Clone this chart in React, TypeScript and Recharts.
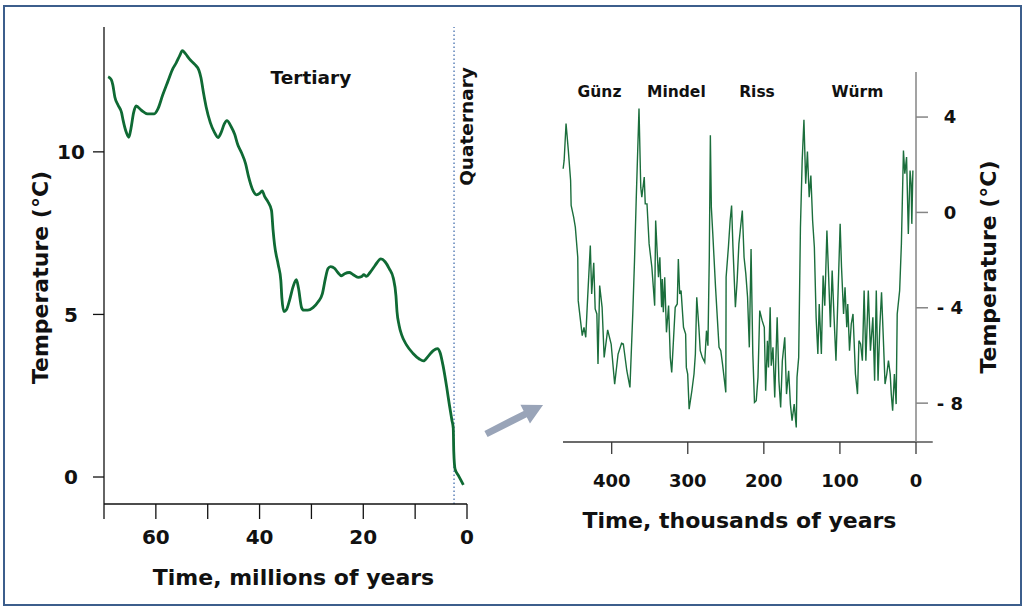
import React from 'react';
import { LineChart, Line, XAxis, YAxis, ReferenceLine, ReferenceDot, Label } from 'recharts';

const FONT = '"DejaVu Sans", Verdana, sans-serif';
const INK = '#111111';
const GREEN = '#0f6a34';

// Tertiary cooling, millions of years before present
const myaAge = [
  69.2, 68.6, 68.3, 67.9, 67.3, 66.6, 66.3, 65.7, 65.2, 64.8,
  64.3, 63.8, 62.8, 61.6, 60.3, 59.6, 58.7, 57.7, 56.7, 56.1,
  55.4, 54.9, 54.3, 53.5, 52.5, 51.7, 51.3, 50.8, 50.3, 49.5,
  48.7, 48, 47.4, 46.8, 46.3, 45.5, 44.8, 44.2, 43.5, 42.7,
  42.1, 41.4, 40.6, 40, 39.5, 39, 38.4, 37.7, 37.4, 37.1,
  36.4, 35.9, 35.7, 35.3, 34.8, 34.2, 33.5, 32.9, 32.5, 31.9,
  31.5, 30.7, 29.7, 28.7, 27.9, 27.3, 26.8, 26.3, 25.5, 24.9,
  24.2, 23.6, 22.7, 22, 21, 20.3, 19.9, 19.4, 18.7, 17.8,
  16.6, 15.8, 15, 14.2, 13.7, 13.5, 13.1, 12.6, 11.7, 10.4,
  9.2, 8.4, 7.5, 6.5, 5.7, 5.2, 4.6, 3.9, 3.4, 2.9,
  2.65, 2.55, 2.3, 1.7, 0.7,
];
const myaTemp = [
  12.31, 12.22, 12.06, 11.68, 11.44, 11.2, 10.96, 10.6, 10.45, 10.72,
  11.2, 11.41, 11.28, 11.17, 11.17, 11.32, 11.74, 12.16, 12.57, 12.73,
  12.96, 13.11, 13.02, 12.85, 12.69, 12.51, 12.28, 11.8, 11.38, 10.9,
  10.6, 10.44, 10.6, 10.86, 10.96, 10.78, 10.54, 10.22, 9.98, 9.64,
  9.22, 8.86, 8.68, 8.72, 8.8, 8.62, 8.47, 8.2, 7.6, 7.13,
  6.53, 6.05, 5.51, 5.09, 5.15, 5.45, 5.87, 6.07, 5.81, 5.21,
  5.13, 5.13, 5.21, 5.39, 5.63, 6.11, 6.41, 6.47, 6.41, 6.29,
  6.19, 6.25, 6.29, 6.23, 6.14, 6.17, 6.22, 6.17, 6.29, 6.49,
  6.71, 6.62, 6.41, 6.11, 5.57, 5.09, 4.67, 4.37, 4.07, 3.8,
  3.63, 3.57, 3.71, 3.89, 3.95, 3.83, 3.41, 2.75, 2.22, 1.74,
  1.5, 0.78, 0.24, 0.06, -0.24,
];
const myaTicks = [0, 10, 20, 30, 40, 50, 60, 70];
const myaLabelled = [0, 20, 40, 60];
const myaTempTicks = [0, 5, 10];
const quaternaryStart = 2.5;

// glacial cycles, thousands of years before present
const kyaAge = [
  463.8, 462.5, 460, 457, 454, 453.3, 450, 447.8, 444.6, 444,
  441, 438.7, 436.4, 434.1, 431.8, 428.1, 426.3, 423.6, 421.7, 419.5,
  418, 415.8, 412.6, 409.9, 405.3, 400.7, 396.1, 391.6, 387, 384.7,
  380.1, 376, 372.3, 370, 367.8, 364.1, 361.8, 360.4, 357.2, 355.9,
  353.6, 350.8, 347.2, 343.5, 342.2, 340.3, 338.5, 336.7, 334.4, 333.5,
  332.1, 330.3, 328, 325.2, 323, 321.1, 319.3, 316.5, 313.8, 312.4,
  310.6, 308.8, 305.6, 302.8, 301.9, 300.1, 298.2, 294.6, 291.8, 290,
  288.2, 285.4, 283.6, 280.9, 277.7, 275.4, 273.5, 271.7, 270.3, 269,
  267.1, 263.5, 258.9, 256.6, 254.3, 250, 249.6, 246.6, 244.3, 242.4,
  240.6, 237.4, 235.1, 232.8, 230.6, 228.3, 226, 223.7, 221.4, 219.1,
  216.8, 214.5, 212.3, 210, 207.7, 205.4, 202.2, 199.4, 197.6, 195.3,
  193.9, 191.7, 190.3, 188, 185.7, 182.5, 180.2, 177.9, 175.7, 172.5,
  170.2, 167.4, 165.1, 162.9, 160.1, 157.4, 156.4, 154.2, 151.9, 149.6,
  147.3, 145, 142.7, 140.4, 138.2, 135.9, 133.6, 131.3, 129, 127.2,
  124.4, 122.1, 119.9, 117.1, 114.8, 112.5, 110.2, 107.9, 105.2, 102.5,
  99.7, 97.9, 95.2, 93.3, 91, 89.7, 87.4, 85.1, 82.8, 79.6,
  76.9, 75, 72.8, 70.5, 68.2, 65.9, 62.7, 59.9, 56.7, 54.4,
  52.2, 49.9, 47.6, 45.3, 43, 40.7, 38.4, 36.2, 33.9, 32.5,
  30.7, 28.4, 26.1, 24.7, 21.5, 19.2, 16.5, 14.7, 12.4, 10.1,
  7.8, 6.4, 5.5, 4.1,
];
const kyaTemp = [
  1.83, 2.18, 3.73, 2.6, 1.34, 0.29, -0.2, -0.62, -1.88, -3.7,
  -4.54, -5.17, -4.82, -5.24, -3.7, -1.39, -3.42, -2.11, -4.05, -4.26,
  -6.36, -3.07, -3.98, -6.08, -4.93, -5.52, -7.2, -5.94, -5.49, -5.52,
  -6.64, -7.34, -4.26, -2.02, 0.5, 4.36, 1.06, 0.64, 1.48, 0.36,
  0.36, -1.32, -2.3, -3.91, -0.34, -1.6, -2.72, -1.88, -3.98, -2.79,
  -4.19, -2.72, -5.03, -3.91, -6.08, -6.71, -5.66, -3.98, -3.84, -1.95,
  -3.42, -3.28, -4.82, -5.1, -6.5, -6.78, -8.25, -7.48, -6.78, -5.94,
  -3.56, -4.82, -5.8, -6.08, -6.29, -4.96, -5.59, -1.88, 3.24, 0.22,
  -0.9, -3.14, -5.66, -5.8, -6.36, -7.55, -2.72, -1.46, -0.34, 0.29,
  -1.46, -3.98, -2.86, -1.32, -0.62, 0.08, -1.88, -2.58, -3.56, -5.66,
  -1.53, -5.94, -7.97, -7.9, -6.92, -4.12, -4.54, -4.82, -7.48, -5.38,
  -6.5, -3.98, -6.43, -5.66, -7.76, -4.4, -7.06, -8.18, -6.22, -5.24,
  -7.62, -6.64, -8.04, -8.74, -8.04, -9.02, -6.92, -6.08, -0.62, 2.18,
  3.89, 1.2, 2.55, 0.64, 1.55, -0.34, -1.46, -4.4, -5.94, -3.84,
  -5.94, -2.65, -3.91, -0.76, -2.72, -4.82, -2.44, -4.26, -6.22, -3.42,
  -0.48, -2.3, -4.26, -3.14, -4.82, -3.84, -5.8, -4.68, -4.26, -6.78,
  -7.62, -5.38, -5.52, -6.22, -3.28, -6.22, -3.28, -5.8, -4.4, -7.06,
  -3.28, -7.06, -4.82, -3.35, -5.24, -7.2, -6.78, -6.22, -6.78, -7.62,
  -8.32, -6.78, -8.04, -4.26, -3.28, -1.32, 2.6, 1.62, 2.32, -0.9,
  1.76, 1.2, -0.48, 1.76,
];
const kyaTicks = [0, 100, 200, 300, 400];
const kyaTempTicks = [-8, -4, 0, 4];
const stageNames = ['Günz', 'Mindel', 'Riss', 'Würm'];
const stageAge = [416, 315, 209, 77];

const mya = myaAge.map((age, i) => ({ age, temp: myaTemp[i] }));
const kya = kyaAge.map((age, i) => ({ age, temp: kyaTemp[i] }));

// bold text centred on whatever box recharts hands the label
const TextMark = (props: any) => {
  const { viewBox, value, shiftX = 0, shiftY = 0, turn = 0, size = 22 } = props;
  if (!viewBox) return null;
  const cx = viewBox.x + (viewBox.width || 0) / 2 + shiftX;
  const cy = viewBox.y + (viewBox.height || 0) / 2 + shiftY;
  return (
    <text
      x={cx}
      y={cy}
      textAnchor="middle"
      dominantBaseline="central"
      transform={turn ? `rotate(${turn} ${cx} ${cy})` : undefined}
      fontFamily={FONT}
      fontWeight={700}
      fontSize={size}
      fill={INK}
    >
      {value}
    </text>
  );
};

const tickFont = (size: number, extra: any = {}) => ({ fill: INK, fontSize: size, fontWeight: 700, fontFamily: FONT, ...extra });

const Arrow = () => (
  <svg width={1025} height={610} style={{ position: 'absolute', left: 0, top: 0, pointerEvents: 'none' }}>
    <polygon
      points="0,-3.5 44,-3.5 44,-10.5 64,0 44,10.5 44,3.5 0,3.5"
      fill="#99a4b8"
      transform="translate(486 434) rotate(-27)"
    />
  </svg>
);

export default function App() {
  return (
    <div style={{ position: 'absolute', left: 0, top: 0, width: 1025, height: 610, background: '#fff' }}>
      <div
        style={{
          position: 'absolute', left: 3, top: 5, width: 1019, height: 601,
          border: '2.5px solid #3c5e8c', boxSizing: 'border-box',
        }}
      />
      <div style={{ position: 'absolute', left: 0, top: 0 }}>
        <LineChart width={500} height={610} data={mya} margin={{ top: 27, right: 33, bottom: 76, left: 44 }}>
          <XAxis
            type="number" dataKey="age" domain={[0, 70]} reversed ticks={myaTicks} interval={0}
            tickFormatter={(v: number) => (myaLabelled.includes(v) ? String(v) : '')}
            stroke={INK} strokeWidth={1.3} tickSize={15} tickMargin={11} height={30}
            tick={tickFont(20)}
            label={<Label value="Time, millions of years" content={<TextMark shiftX={8} shiftY={58} />} />}
          />
          <YAxis
            type="number" domain={[-0.83, 13.84]} ticks={myaTempTicks} allowDataOverflow interval={0}
            stroke={INK} strokeWidth={1.3} tickSize={11} tickMargin={22} width={60}
            tick={tickFont(20, { textAnchor: 'middle' })}
            label={<Label value="Temperature (°C)" content={<TextMark shiftX={-34} shiftY={12} turn={-90} />} />}
          />
          <ReferenceLine x={quaternaryStart} stroke="#3563a8" strokeDasharray="1.5 2.5" strokeWidth={1.2} />
          <ReferenceDot
            x={30.1} y={12.28} r={0} fill="none" stroke="none"
            label={<Label value="Tertiary" content={<TextMark size={18.5} />} />}
          />
          <ReferenceDot
            x={0.06} y={10.78} r={0} fill="none" stroke="none" ifOverflow="visible"
            label={<Label value="Quaternary" content={<TextMark size={18.5} turn={-90} />} />}
          />
          <Line
            dataKey="temp" type="monotone" stroke={GREEN} strokeWidth={2.8}
            dot={false} activeDot={false} isAnimationActive={false}
          />
        </LineChart>
      </div>
      <div style={{ position: 'absolute', left: 0, top: 0 }}>
        <LineChart width={1025} height={610} data={kya} margin={{ top: 72, right: 49, bottom: 138, left: 563 }}>
          <XAxis
            type="number" dataKey="age" domain={[0, 464]} reversed ticks={kyaTicks} interval={0}
            stroke="#3a3a3a" strokeWidth={1.3} tickSize={12} tickMargin={20} height={30}
            tick={tickFont(18)}
            label={<Label value="Time, thousands of years" content={<TextMark shiftX={0} shiftY={63} />} />}
          />
          <YAxis
            orientation="right" type="number" domain={[-9.63, 5.89]} ticks={kyaTempTicks} allowDataOverflow interval={0}
            tickFormatter={(v: number) => (v < 0 ? `- ${-v}` : `${v}`)}
            stroke="#858585" strokeWidth={1.5} tickSize={12} tickMargin={22} width={60}
            tick={tickFont(18, { textAnchor: 'middle' })}
            label={<Label value="Temperature (°C)" content={<TextMark shiftX={42} shiftY={10} turn={-90} />} />}
          />
          <ReferenceLine
            segment={[{ x: 0, y: -9.63 }, { x: -22, y: -9.63 }]}
            ifOverflow="visible" stroke="#3a3a3a" strokeWidth={1.3}
          />
          {stageNames.map((name, i) => (
            <ReferenceDot
              key={name} x={stageAge[i]} y={5.04} r={0} fill="none" stroke="none"
              label={<Label value={name} content={<TextMark size={15.5} />} />}
            />
          ))}
          <Line
            dataKey="temp" type="linear" stroke="#1b6e3c" strokeWidth={1.4}
            dot={false} activeDot={false} isAnimationActive={false}
          />
        </LineChart>
      </div>
      <Arrow />
    </div>
  );
}
